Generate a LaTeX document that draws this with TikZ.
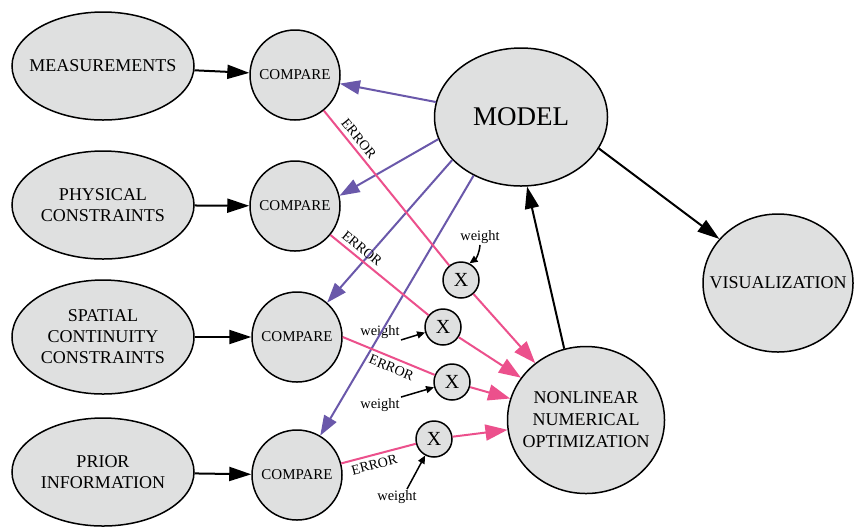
\documentclass[tikz,border=0pt]{standalone}
\usepackage{fontspec}
\setmainfont{Liberation Serif}
\usetikzlibrary{shapes.geometric,arrows.meta}
\definecolor{nodegray}{RGB}{223,224,224}
\definecolor{modelpurple}{RGB}{106,88,170}
\definecolor{errorpink}{RGB}{236,80,140}
\def\inputfont{\fontsize{9}{10.5}\selectfont}
\def\smallfont{\fontsize{7}{8}\selectfont}
\begin{document}
\begin{tikzpicture}[x=0.5pt,y=-0.5pt,
  inputnode/.style={ellipse,draw,fill=nodegray,line width=0.75pt,minimum width=91pt,minimum height=54pt,inner xsep=-10pt,inner ysep=0pt,align=center,font=\inputfont},
  comparenode/.style={circle,draw,fill=nodegray,line width=0.75pt,minimum size=45pt,inner sep=0pt,font=\fontsize{7.5}{9}\selectfont},
  mulnode/.style={circle,draw,fill=nodegray,line width=0.75pt,minimum size=18pt,inner sep=0pt,font=\fontsize{10}{12}\selectfont},
  feedarrow/.style={draw=black,line width=1pt,-{Triangle[length=11pt,width=7pt]}},
  modelarrow/.style={draw=modelpurple,line width=1pt,-{Triangle[length=10pt,width=7pt]}},
  errline/.style={draw=errorpink,line width=1pt},
  errarrow/.style={errline,-{Triangle[length=11pt,width=8pt]}},
  errlabel/.style={sloped,font=\smallfont,inner sep=2pt},
  weightlabel/.style={font=\fontsize{7.2}{8}\selectfont,inner sep=0.5pt},
  weightarrow/.style={draw=black,line width=0.75pt,-{Triangle[length=4pt,width=3.5pt]}}]
\path[use as bounding box,fill=white] (0,0) rectangle (854,527);
\node[inputnode] (meas) at (103,66) {MEASUREMENTS};
\node[inputnode] (phys) at (103,205) {PHYSICAL\\CONSTRAINTS};
\node[inputnode,minimum height=57pt] (spat) at (103,337) {SPATIAL\\CONTINUITY\\CONSTRAINTS};
\node[inputnode] (prior) at (103,472) {PRIOR\\INFORMATION};
\node[comparenode] (cmpmeas) at (295,75) {COMPARE};
\node[comparenode] (cmpphys) at (295,206) {COMPARE};
\node[comparenode] (cmpspat) at (297,337) {COMPARE};
\node[comparenode] (cmpprior) at (297,475) {COMPARE};
\node[ellipse,draw,fill=nodegray,line width=0.75pt,minimum width=86.5pt,minimum height=69pt,inner sep=0pt,font=\fontsize{13.5}{16}\selectfont] (model) at (521,117) {MODEL};
\node[ellipse,draw,fill=nodegray,line width=0.75pt,minimum width=75pt,minimum height=69pt,inner xsep=-12pt,inner ysep=0pt,font=\inputfont] (vis) at (778,283) {VISUALIZATION};
\node[ellipse,draw,fill=nodegray,line width=0.75pt,minimum width=78.5pt,minimum height=73.5pt,inner xsep=-8pt,inner ysep=0pt,align=center,font=\fontsize{9}{11}\selectfont] (nonlin) at (586,420) {NONLINEAR\\NUMERICAL\\OPTIMIZATION};
\node[mulnode] (xmeas) at (461,280) {X};
\node[mulnode] (xphys) at (443,327) {X};
\node[mulnode] (xspat) at (452,382) {X};
\node[mulnode] (xprior) at (434,439) {X};
\node[weightlabel] (wmeas) at (480,237) {weight};
\node[weightlabel] (wphys) at (380,332) {weight};
\node[weightlabel] (wspat) at (380,405) {weight};
\node[weightlabel] (wprior) at (397,497) {weight};
\draw[feedarrow] (meas) -- (cmpmeas);
\draw[feedarrow] (phys) -- (cmpphys);
\draw[feedarrow] (spat) -- (cmpspat);
\draw[feedarrow] (prior) -- (cmpprior);
\draw[modelarrow] (model.170) -- (cmpmeas);
\draw[modelarrow] (model.195) -- (cmpphys.13);
\draw[modelarrow] (model.212) -- (cmpspat);
\draw[modelarrow] (model.231) -- (cmpprior);
\draw[errline] (cmpmeas) -- node[errlabel,pos=0.22,above] {ERROR} (xmeas);
\draw[errarrow] (xmeas) -- (nonlin);
\draw[errline] (cmpphys) -- node[errlabel,pos=0.26,above] {ERROR} (xphys);
\draw[errarrow] (xphys) -- (nonlin);
\draw[errline] (cmpspat.east) -- node[errlabel,pos=0.57,below] {ERROR} (xspat);
\draw[errarrow] (xspat) -- (nonlin);
\draw[errline] (cmpprior) -- node[errlabel,pos=0.41,below] {ERROR} (xprior);
\draw[errarrow] (xprior) -- (nonlin);
\draw[weightarrow] (wmeas.south) to[bend left=25] (xmeas.63);
\draw[weightarrow] (wphys.south east) -- (xphys);
\draw[weightarrow] (wspat.north east) -- (xspat);
\draw[weightarrow] ([xshift=5pt]wprior.north) -- (xprior);
\draw[feedarrow] (model.-22) -- (vis);
\draw[feedarrow] (nonlin.107) -- (model.275);
\end{tikzpicture}
\end{document}
